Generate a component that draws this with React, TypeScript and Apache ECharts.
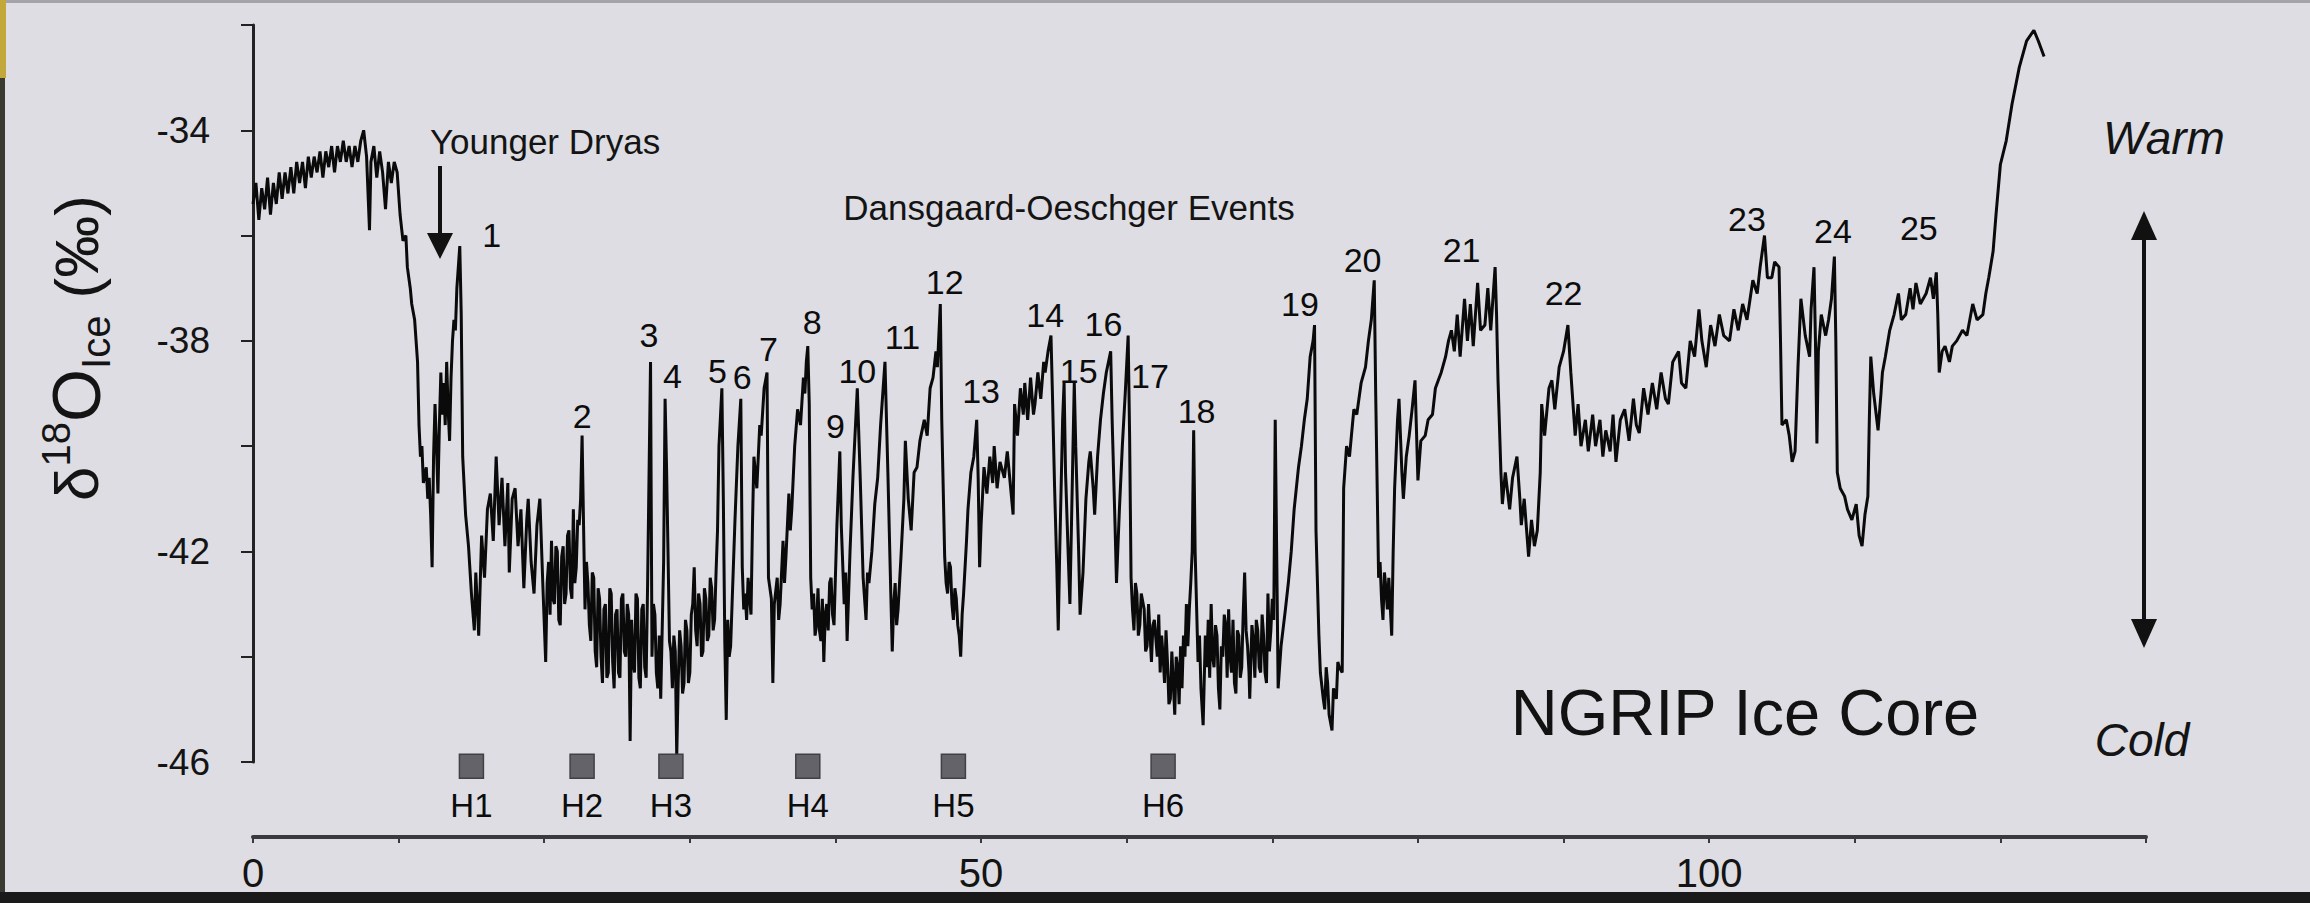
import React, { useEffect, useRef } from "react";
import * as echarts from "echarts";

// ---- Axis ticks / labels ----
const xTickLabels = [0, 50, 100];
const yTickLabels = [-46, -42, -38, -34];

// ---- NGRIP d18O record, [age ka b2k, d18O permil] ----
const segHolocene: number[][] = [
  [0.0, -35.4], [0.2, -35.0], [0.4, -35.7], [0.6, -35.1], [0.8, -35.5], [1.0, -34.9], [1.2, -35.6], [1.4, -35.0],
  [1.6, -35.4], [1.8, -34.8], [2.0, -35.3], [2.2, -34.8], [2.4, -35.2], [2.6, -34.7], [2.8, -35.2], [3.0, -34.6],
  [3.2, -35.0], [3.4, -34.6], [3.6, -35.1], [3.8, -34.5], [4.0, -34.9], [4.2, -34.5], [4.4, -34.8], [4.6, -34.4],
  [4.8, -34.9], [5.0, -34.4], [5.2, -34.7], [5.4, -34.3], [5.6, -34.8], [5.8, -34.3], [6.0, -34.6], [6.2, -34.2],
  [6.4, -34.6], [6.6, -34.3], [6.8, -34.7], [7.0, -34.3], [7.2, -34.6], [7.4, -34.2], [7.6, -34.0], [7.8, -34.5],
  [8.0, -35.9], [8.1, -34.6], [8.3, -34.3], [8.5, -34.9], [8.7, -34.4], [8.9, -34.8], [9.1, -35.5], [9.3, -34.6],
  [9.5, -35.0], [9.7, -34.6], [9.9, -34.8], [10.1, -35.6], [10.3, -36.1], [10.5, -36.0], [10.6, -36.6], [10.8, -37.0],
  [10.9, -37.3], [11.1, -37.6], [11.2, -38.0], [11.3, -38.4], [11.4, -39.6], [11.5, -40.2], [11.6, -40.0], [11.7, -40.7],
  [11.9, -40.4], [12.0, -41.0], [12.1, -40.6], [12.2, -41.3], [12.3, -42.3], [12.4, -40.2], [12.5, -39.2], [12.6, -40.0],
  [12.7, -40.9], [12.8, -39.6], [12.9, -38.6], [13.0, -39.4], [13.1, -38.8], [13.2, -39.6], [13.3, -38.4], [13.4, -39.3],
  [13.5, -39.9], [13.6, -38.7], [13.7, -38.0], [13.8, -37.6], [13.9, -37.8], [14.0, -37.0], [14.2, -36.2], [14.3, -37.5],
  [14.4, -40.2], [14.6, -41.3], [14.8, -41.9], [15.0, -42.8], [15.2, -43.5], [15.3, -42.4], [15.5, -43.6], [15.7, -41.7],
  [15.9, -42.5], [16.1, -41.2], [16.3, -40.9], [16.5, -41.8], [16.7, -40.2], [16.9, -41.5], [17.1, -40.6], [17.3, -41.9],
  [17.5, -40.7], [17.6, -42.4], [17.8, -41.0], [18.0, -40.8], [18.2, -41.9], [18.4, -41.2], [18.6, -42.7], [18.8, -41.4],
  [18.9, -41.0], [19.1, -42.2], [19.3, -42.8], [19.5, -41.5], [19.7, -41.0], [19.9, -42.6],
];

const segGlacialA: number[][] = [
  [20.1, -44.1], [20.2, -42.6], [20.3, -42.2], [20.4, -43.2], [20.5, -41.8], [20.6, -42.9], [20.7, -43.0], [20.8, -41.9],
  [20.9, -42.0], [21.0, -43.3], [21.1, -43.4], [21.2, -42.1], [21.3, -41.9], [21.4, -43.0], [21.5, -42.8], [21.6, -41.7],
  [21.7, -41.6], [21.8, -42.7], [21.9, -42.9], [22.0, -41.2], [22.1, -42.6], [22.2, -42.3], [22.3, -41.4], [22.4, -41.5],
  [22.5, -41.0], [22.6, -39.8], [22.7, -41.5], [22.8, -43.1], [22.9, -42.2], [23.0, -42.6], [23.1, -43.4], [23.2, -43.7],
  [23.3, -42.4], [23.4, -42.5], [23.5, -43.9], [23.6, -44.2], [23.7, -42.7], [23.8, -42.9], [23.9, -44.0], [24.0, -44.5],
  [24.1, -43.1], [24.2, -43.0], [24.3, -44.4], [24.4, -44.3], [24.5, -42.7], [24.6, -42.8], [24.7, -44.1], [24.8, -44.6],
  [24.9, -43.2], [25.0, -43.1], [25.1, -44.3], [25.2, -44.4], [25.3, -42.9], [25.4, -42.8], [25.5, -43.9], [25.6, -44.0],
  [25.7, -43.0], [25.8, -43.2], [25.9, -45.6], [26.0, -43.3], [26.1, -44.1], [26.2, -44.3], [26.3, -42.8], [26.4, -42.9],
  [26.5, -44.4], [26.6, -44.6], [26.7, -43.1], [26.8, -43.0], [26.9, -44.2], [27.0, -44.4], [27.1, -42.6], [27.3, -38.4],
  [27.4, -44.0], [27.5, -43.0], [27.6, -43.2], [27.7, -44.3], [27.8, -44.6], [27.9, -43.6], [28.0, -44.8], [28.2, -42.2],
  [28.3, -39.1], [28.4, -40.4], [28.5, -42.0], [28.6, -43.7], [28.7, -43.9], [28.8, -44.6], [28.9, -43.6], [29.0, -43.9],
  [29.1, -45.9], [29.2, -44.5], [29.3, -43.5], [29.4, -43.8], [29.5, -44.7], [29.6, -44.5], [29.7, -43.3], [29.8, -43.5],
  [29.9, -44.5], [30.0, -44.3], [30.1, -43.2], [30.2, -43.0], [30.3, -42.3], [30.4, -43.5], [30.5, -43.8], [30.6, -42.8],
  [30.7, -43.0], [30.8, -44.0], [30.9, -43.9], [31.0, -42.7], [31.1, -42.9], [31.2, -43.7], [31.3, -43.6], [31.4, -42.5],
  [31.5, -42.7], [31.6, -43.5], [31.7, -43.3], [31.8, -42.4], [31.9, -41.6], [32.0, -40.0], [32.2, -38.9], [32.3, -41.0],
  [32.4, -43.7], [32.5, -45.2], [32.6, -43.3], [32.7, -44.0], [32.8, -43.8], [32.9, -43.0], [33.1, -41.4], [33.3, -40.0],
  [33.5, -39.1], [33.6, -42.3], [33.7, -43.1], [33.8, -42.8], [33.9, -43.3], [34.0, -42.5], [34.2, -43.2], [34.3, -41.5],
  [34.4, -40.2], [34.6, -40.8], [34.8, -39.6], [34.9, -39.8], [35.1, -38.9], [35.3, -38.6], [35.4, -42.5], [35.6, -42.9],
  [35.7, -44.5], [35.8, -43.0], [36.0, -42.5], [36.1, -43.3], [36.2, -43.0], [36.4, -41.8], [36.5, -42.6], [36.6, -42.1],
  [36.8, -40.9], [36.9, -41.6], [37.0, -41.2], [37.2, -40.0], [37.4, -39.3], [37.6, -39.6], [37.8, -38.7], [37.9, -39.0],
  [38.0, -38.4], [38.1, -38.1], [38.2, -39.2], [38.3, -42.5], [38.4, -43.1], [38.5, -42.8], [38.6, -43.6], [38.7, -43.4],
  [38.8, -42.7], [38.9, -43.5], [39.0, -43.7], [39.1, -42.9], [39.2, -44.1], [39.3, -43.2], [39.4, -43.0], [39.5, -43.5],
  [39.6, -42.6], [39.7, -42.5], [39.8, -43.2], [39.9, -43.4],
];

const segGlacialB: number[][] = [
  [40.1, -41.5], [40.3, -40.1], [40.4, -41.5], [40.6, -43.0], [40.7, -42.4], [40.8, -43.7], [41.0, -42.0], [41.2, -40.6],
  [41.5, -38.9], [41.7, -40.6], [41.9, -42.5], [42.0, -42.9], [42.1, -43.3], [42.2, -42.4], [42.3, -42.6], [42.5, -42.0],
  [42.7, -41.1], [42.9, -40.6], [43.1, -39.6], [43.4, -38.4], [43.6, -40.5], [43.8, -42.8], [43.9, -43.9], [44.0, -43.0],
  [44.1, -42.6], [44.2, -43.4], [44.3, -43.1], [44.5, -42.1], [44.7, -41.0], [44.8, -39.9], [45.0, -41.0], [45.2, -41.6],
  [45.4, -40.5], [45.6, -40.4], [45.8, -39.9], [46.1, -39.5], [46.3, -39.8], [46.5, -38.9], [46.7, -38.7], [46.9, -38.2],
  [47.0, -38.5], [47.2, -37.3], [47.3, -39.5], [47.5, -42.1], [47.6, -42.6], [47.7, -42.8], [47.8, -42.2], [47.9, -42.3],
  [48.0, -43.0], [48.1, -43.3], [48.2, -42.7], [48.3, -42.9], [48.4, -43.4], [48.5, -43.6], [48.6, -44.0], [48.7, -43.2],
  [48.8, -42.8], [49.0, -41.8], [49.1, -41.2], [49.3, -40.5], [49.5, -40.2], [49.7, -39.5], [49.8, -40.6], [49.9, -42.3],
  [50.0, -41.5], [50.2, -40.4], [50.4, -40.9], [50.6, -40.2], [50.8, -40.7], [50.9, -40.0], [51.1, -40.8], [51.3, -40.3],
  [51.6, -40.6], [51.8, -40.1], [52.0, -40.7], [52.2, -41.3], [52.3, -39.2], [52.5, -39.8], [52.7, -38.9], [52.9, -39.4],
  [53.0, -38.8], [53.2, -39.5], [53.4, -38.7], [53.6, -39.4], [53.7, -39.2], [53.9, -38.6], [54.1, -39.1], [54.3, -38.4],
  [54.4, -38.6], [54.6, -38.2], [54.8, -37.9], [54.9, -39.0], [55.05, -40.8], [55.2, -42.3], [55.3, -43.5], [55.4, -42.0],
  [55.6, -39.5], [55.7, -38.8], [55.8, -40.5], [56.0, -42.2], [56.1, -43.0], [56.3, -40.2], [56.4, -38.8], [56.5, -40.0],
  [56.7, -42.0], [56.8, -43.2], [57.0, -42.4], [57.2, -41.0], [57.4, -40.3], [57.5, -40.1], [57.7, -40.8], [57.8, -41.3],
  [58.0, -40.2], [58.2, -39.5], [58.4, -39.0], [58.6, -38.6], [58.9, -38.2], [59.0, -39.5], [59.2, -41.5], [59.3, -42.6],
  [59.5, -41.2], [59.7, -40.0], [59.9, -39.0], [60.1, -37.9], [60.2, -39.8], [60.3, -42.5], [60.4, -43.1], [60.5, -43.5],
  [60.6, -42.6], [60.7, -42.8], [60.8, -43.6], [60.9, -43.4], [61.0, -42.8], [61.2, -43.1], [61.3, -43.9], [61.4, -43.8],
  [61.5, -43.0], [61.7, -44.1], [61.8, -43.4], [61.9, -43.3],
];

const segGlacialC: number[][] = [
  [62.1, -44.0], [62.2, -43.2], [62.3, -44.3], [62.4, -43.6], [62.5, -44.0], [62.6, -44.5], [62.7, -43.5], [62.8, -44.1],
  [62.9, -44.9], [63.0, -44.8], [63.1, -43.9], [63.2, -44.5], [63.3, -45.1], [63.4, -44.0], [63.5, -44.2], [63.6, -44.9],
  [63.7, -43.8], [63.8, -44.6], [63.9, -43.6], [64.0, -44.0], [64.1, -43.0], [64.2, -43.8], [64.3, -43.1], [64.4, -42.6],
  [64.5, -42.0], [64.6, -39.7], [64.7, -42.0], [64.9, -44.1], [65.0, -43.6], [65.1, -44.6], [65.25, -45.3], [65.4, -43.6],
  [65.5, -44.2], [65.6, -43.3], [65.7, -44.4], [65.8, -43.0], [65.9, -44.0], [66.0, -44.2], [66.1, -43.4], [66.2, -43.6],
  [66.3, -44.6], [66.4, -45.0], [66.5, -43.8], [66.6, -44.0], [66.7, -43.2], [66.8, -43.4], [66.9, -44.4], [67.0, -43.1],
  [67.1, -44.0], [67.2, -44.3], [67.3, -43.3], [67.4, -44.5], [67.5, -44.7], [67.6, -43.5], [67.7, -43.6], [67.8, -44.4],
  [67.9, -44.2], [68.0, -43.2], [68.1, -42.4], [68.2, -43.5], [68.3, -43.8], [68.4, -44.3], [68.45, -44.8], [68.6, -43.4],
  [68.7, -43.7], [68.8, -44.4], [68.9, -43.3], [69.0, -43.5], [69.1, -44.2], [69.2, -44.3], [69.3, -43.2], [69.4, -43.6],
  [69.5, -44.3], [69.6, -44.5], [69.7, -42.8], [69.8, -43.9], [69.9, -43.5], [70.0, -42.9], [70.1, -43.3], [70.2, -39.5],
  [70.3, -42.0], [70.4, -44.6], [70.6, -43.8], [70.9, -43.1], [71.1, -42.6], [71.3, -42.0], [71.5, -41.2], [71.8, -40.4],
  [72.0, -40.0], [72.2, -39.5], [72.4, -39.1], [72.6, -38.3], [72.8, -38.0], [72.9, -37.7], [73.0, -41.6], [73.2, -43.6],
  [73.3, -44.3], [73.5, -44.8], [73.6, -45.0], [73.7, -44.2], [73.8, -44.5], [73.9, -45.1], [74.1, -45.4], [74.2, -44.6],
  [74.3, -44.7], [74.4, -44.8], [74.5, -44.1], [74.6, -44.2], [74.8, -44.3], [74.9, -40.8], [75.1, -40.0], [75.3, -40.2],
  [75.6, -39.3], [75.8, -39.4], [76.1, -38.8], [76.4, -38.5], [76.6, -38.0], [76.8, -37.6], [77.0, -36.85], [77.1, -39.0],
  [77.3, -42.5], [77.4, -42.2], [77.5, -42.9], [77.6, -43.3], [77.7, -42.4], [77.8, -42.7], [77.9, -43.1], [78.0, -42.5],
  [78.2, -43.6], [78.3, -42.0], [78.4, -40.8], [78.6, -39.5], [78.7, -39.1], [78.9, -40.5], [79.0, -41.0], [79.2, -40.2],
  [79.4, -39.8], [79.6, -39.3], [79.8, -38.75], [80.0, -40.65], [80.2, -39.9], [80.5, -39.8], [80.7, -39.5], [81.0, -39.4],
  [81.2, -38.9], [81.4, -38.75], [81.6, -38.6], [81.9, -38.3], [82.1, -38.0], [82.3, -37.8], [82.5, -38.2], [82.7, -37.5],
  [82.9, -38.3], [83.2, -37.2], [83.4, -38.0], [83.6, -37.3], [83.8, -38.1], [84.1, -36.9], [84.3, -37.8], [84.6, -37.7],
  [84.8, -37.0], [85.0, -37.8], [85.3, -36.6], [85.4, -37.5],
];

const segEemianSide: number[][] = [
  [85.5, -38.75], [85.7, -40.5], [85.8, -41.1], [86.0, -40.5], [86.3, -41.2], [86.5, -40.6], [86.8, -40.2], [87.0, -41.0],
  [87.1, -41.5], [87.3, -41.0], [87.6, -42.1], [87.8, -41.4], [88.0, -41.9], [88.2, -41.6], [88.4, -40.5], [88.5, -39.2],
  [88.7, -39.8], [89.0, -38.9], [89.2, -38.75], [89.4, -39.3], [89.7, -38.5], [90.0, -38.2], [90.3, -37.7], [90.5, -38.6],
  [90.8, -39.8], [91.0, -39.2], [91.2, -40.0], [91.5, -39.5], [91.7, -40.1], [92.0, -39.4], [92.2, -40.0], [92.5, -39.5],
  [92.7, -40.2], [92.9, -39.7], [93.2, -40.1], [93.4, -39.4], [93.6, -40.3], [93.9, -39.5], [94.2, -39.3], [94.5, -39.9],
  [94.8, -39.1], [95.0, -39.6], [95.2, -39.75], [95.5, -38.9], [95.8, -39.4], [96.1, -38.8], [96.4, -39.3], [96.7, -38.6],
  [97.0, -39.1], [97.2, -39.2], [97.5, -38.4], [97.9, -38.2], [98.1, -38.8], [98.4, -38.9], [98.7, -38.0], [99.0, -38.3],
  [99.3, -37.4], [99.5, -38.0], [99.8, -38.5], [100.1, -37.7], [100.4, -38.1], [100.7, -37.5], [101.0, -37.9], [101.4, -38.0],
  [101.7, -37.4], [102.0, -37.8], [102.3, -37.3], [102.6, -37.6], [103.0, -36.85], [103.3, -37.1], [103.5, -36.6], [103.8, -36.0],
  [104.0, -36.8], [104.3, -36.8], [104.5, -36.5], [104.8, -36.6], [104.9, -38.0], [105.0, -39.6], [105.3, -39.5], [105.5, -39.8],
  [105.7, -40.3], [105.9, -40.1], [106.1, -38.5], [106.3, -37.2], [106.6, -37.9], [106.9, -38.3], [107.0, -37.4], [107.2, -36.6],
  [107.3, -38.0], [107.4, -39.95], [107.5, -38.2], [107.7, -37.5], [108.0, -37.9], [108.2, -37.6], [108.4, -37.2], [108.6, -36.4],
  [108.7, -38.0], [108.8, -40.5], [109.0, -40.8], [109.3, -40.95], [109.5, -41.2], [109.8, -41.4], [110.1, -41.1], [110.3, -41.7],
  [110.5, -41.9], [110.7, -41.3], [110.9, -40.95], [111.0, -39.5], [111.1, -38.3], [111.3, -39.0], [111.6, -39.7], [111.8, -39.0],
  [111.9, -38.6], [112.1, -38.3], [112.4, -37.8], [112.7, -37.5], [113.0, -37.1], [113.2, -37.6], [113.5, -37.5], [113.8, -37.0],
  [114.0, -37.4], [114.2, -36.9], [114.5, -37.3], [114.9, -37.1], [115.2, -36.8], [115.4, -37.2], [115.6, -36.7], [115.7, -37.5],
  [115.8, -38.6], [116.0, -38.2], [116.2, -38.1], [116.5, -38.4], [116.7, -38.1], [117.0, -38.0], [117.4, -37.8], [117.7, -37.9],
  [118.1, -37.3], [118.4, -37.6], [118.8, -37.5], [119.0, -37.1], [119.2, -36.8], [119.5, -36.3], [119.7, -35.6], [120.0, -34.65],
  [120.4, -34.2], [120.8, -33.5], [121.3, -32.8], [121.8, -32.3], [122.3, -32.1], [122.6, -32.3], [123.0, -32.6],
];

// ---- Dansgaard-Oeschger event numbers (label anchor: age, d18O) ----
const doNames = ["1", "2", "3", "4", "5", "6", "7", "8", "9", "10", "11", "12", "13", "14", "15", "16", "17", "18", "19", "20", "21", "22", "23", "24", "25"];
const doAges = [16.4, 22.6, 27.2, 28.8, 31.9, 33.6, 35.4, 38.4, 40.0, 41.5, 44.6, 47.5, 50.0, 54.4, 56.7, 58.4, 61.6, 64.8, 71.9, 76.2, 83.0, 90.0, 102.6, 108.5, 114.4];
const doLevels = [-35.98, -39.42, -37.89, -38.66, -38.58, -38.69, -38.16, -37.65, -39.61, -38.58, -37.93, -36.88, -38.96, -37.51, -38.58, -37.68, -38.66, -39.33, -37.3, -36.46, -36.27, -37.09, -35.68, -35.91, -35.85];

// ---- Heinrich events ----
const heinrichNames = ["H1", "H2", "H3", "H4", "H5", "H6"];
const heinrichAges = [15.0, 22.6, 28.7, 38.1, 48.1, 62.5];
const heinrichLevel = -46.08;

const BG = "#dddde3";
const FONT = "'Liberation Sans', Arial, Helvetica, sans-serif";
const INK = "#141414";

export default function App() {
  const ref = useRef<HTMLDivElement>(null);
  useEffect(() => {
    document.body.style.margin = "0";
    const chart = echarts.init(ref.current as HTMLDivElement, null, { renderer: "svg" });
    const record = [...segHolocene, ...segGlacialA, ...segGlacialB, ...segGlacialC, ...segEemianSide];
    chart.setOption({
      animation: false,
      backgroundColor: BG,
      textStyle: { fontFamily: FONT },
      grid: { left: 253, right: 164, top: 25, bottom: 141, containLabel: false },
      xAxis: {
        type: "value",
        min: 0,
        max: 130,
        interval: 10,
        offset: 75,
        axisLine: { show: true, lineStyle: { color: "#3a3a3e", width: 4 } },
        axisTick: { show: true, length: 6, inside: false, lineStyle: { color: "#3a3a3e", width: 2 } },
        axisLabel: {
          show: true,
          margin: 16,
          fontSize: 40,
          color: INK,
          fontFamily: FONT,
          formatter: (v: number) => (xTickLabels.includes(v) ? String(v) : ""),
        },
        splitLine: { show: false },
      },
      yAxis: {
        type: "value",
        min: -46,
        max: -32,
        interval: 2,
        axisLine: { show: true, lineStyle: { color: "#222", width: 3 } },
        axisTick: { show: true, length: 12, inside: false, lineStyle: { color: "#222", width: 2 } },
        axisLabel: {
          show: true,
          margin: 43,
          fontSize: 37,
          color: INK,
          fontFamily: FONT,
          formatter: (v: number) => (yTickLabels.includes(v) ? String(v) : ""),
        },
        splitLine: { show: false },
      },
      series: [
        {
          type: "line",
          name: "NGRIP d18O",
          data: record,
          showSymbol: false,
          symbol: "none",
          lineStyle: { color: "#0a0a0a", width: 3, join: "bevel" },
          z: 3,
        },
        {
          type: "scatter",
          name: "DO events",
          data: doNames.map((n, i) => ({ name: n, value: [doAges[i], doLevels[i]] })),
          symbol: "circle",
          symbolSize: 0.1,
          itemStyle: { color: BG, opacity: 1 },
          label: {
            show: true,
            position: "inside",
            formatter: "{b}",
            fontSize: 34,
            color: "#0c0c0c",
            opacity: 1,
            fontFamily: FONT,
          },
          emphasis: { disabled: true },
          z: 4,
        },
        {
          type: "scatter",
          name: "Heinrich events",
          clip: false,
          data: heinrichNames.map((n, i) => ({ name: n, value: [heinrichAges[i], heinrichLevel] })),
          symbol: "rect",
          symbolSize: 24,
          itemStyle: { color: "#636369", borderColor: "#404045", borderWidth: 1.5, opacity: 1 },
          label: {
            show: true,
            position: "bottom",
            distance: 10,
            formatter: "{b}",
            fontSize: 33,
            color: "#0c0c0c",
            opacity: 1,
            fontFamily: FONT,
          },
          emphasis: { disabled: true },
          z: 4,
        },
      ],
      graphic: [
        // screen-capture frame artifacts
        { type: "rect", shape: { x: 0, y: 0, width: 2310, height: 3 }, style: { fill: "#a3a3a9" }, z: 100 },
        { type: "rect", shape: { x: 0, y: 0, width: 5, height: 903 }, style: { fill: "#3a3a30" }, z: 100 },
        { type: "rect", shape: { x: 0, y: 0, width: 6, height: 78 }, style: { fill: "#c2a83a" }, z: 101 },
        { type: "rect", shape: { x: 0, y: 892, width: 2310, height: 11 }, style: { fill: "#1a1a1a" }, z: 100 },
        // y-axis title
        {
          type: "text",
          x: 76,
          y: 348,
          rotation: Math.PI / 2,
          style: {
            text: "{d|δ}{s|18}{o|O}{b|Ice}{p| (‰)}",
            align: "center",
            verticalAlign: "middle",
            fill: INK,
            font: `62px ${FONT}`,
            rich: {
              d: { fontSize: 62, fontFamily: FONT, fill: INK, lineHeight: 80, verticalAlign: "middle" },
              s: { fontSize: 40, fontFamily: FONT, fill: INK, lineHeight: 40, verticalAlign: "top" },
              o: { fontSize: 68, fontFamily: FONT, fill: INK, lineHeight: 80, verticalAlign: "middle" },
              b: { fontSize: 40, fontFamily: FONT, fill: INK, lineHeight: 40, verticalAlign: "bottom" },
              p: { fontSize: 62, fontFamily: FONT, fill: INK, lineHeight: 80, verticalAlign: "middle" },
            },
          },
        },
        // Younger Dryas
        {
          type: "text",
          x: 545,
          y: 141,
          style: { text: "Younger Dryas", align: "center", verticalAlign: "middle", fill: INK, font: `35px ${FONT}` },
        },
        { type: "line", shape: { x1: 440, y1: 166, x2: 440, y2: 240 }, style: { stroke: "#111", lineWidth: 4 } },
        { type: "polygon", shape: { points: [[427, 233], [453, 233], [440, 259]] }, style: { fill: "#111" } },
        // DO events title
        {
          type: "text",
          x: 1069,
          y: 207,
          style: { text: "Dansgaard-Oeschger Events", align: "center", verticalAlign: "middle", fill: INK, font: `35px ${FONT}` },
        },
        // NGRIP
        {
          type: "text",
          x: 1745,
          y: 712,
          style: { text: "NGRIP Ice Core", align: "center", verticalAlign: "middle", fill: "#121212", font: `65px ${FONT}` },
        },
        // Warm / Cold
        {
          type: "text",
          x: 2164,
          y: 138,
          style: { text: "Warm", align: "center", verticalAlign: "middle", fill: INK, font: `italic 46px ${FONT}` },
        },
        {
          type: "text",
          x: 2142,
          y: 740,
          style: { text: "Cold", align: "center", verticalAlign: "middle", fill: INK, font: `italic 46px ${FONT}` },
        },
        { type: "line", shape: { x1: 2144, y1: 232, x2: 2144, y2: 626 }, style: { stroke: "#111", lineWidth: 4 } },
        { type: "polygon", shape: { points: [[2131, 240], [2157, 240], [2144, 211]] }, style: { fill: "#111" } },
        { type: "polygon", shape: { points: [[2131, 619], [2157, 619], [2144, 648]] }, style: { fill: "#111" } },
      ],
    });
    return () => chart.dispose();
  }, []);
  return (
    <div
      ref={ref}
      style={{ position: "fixed", left: 0, top: 0, width: 2310, height: 903, background: BG }}
    />
  );
}
